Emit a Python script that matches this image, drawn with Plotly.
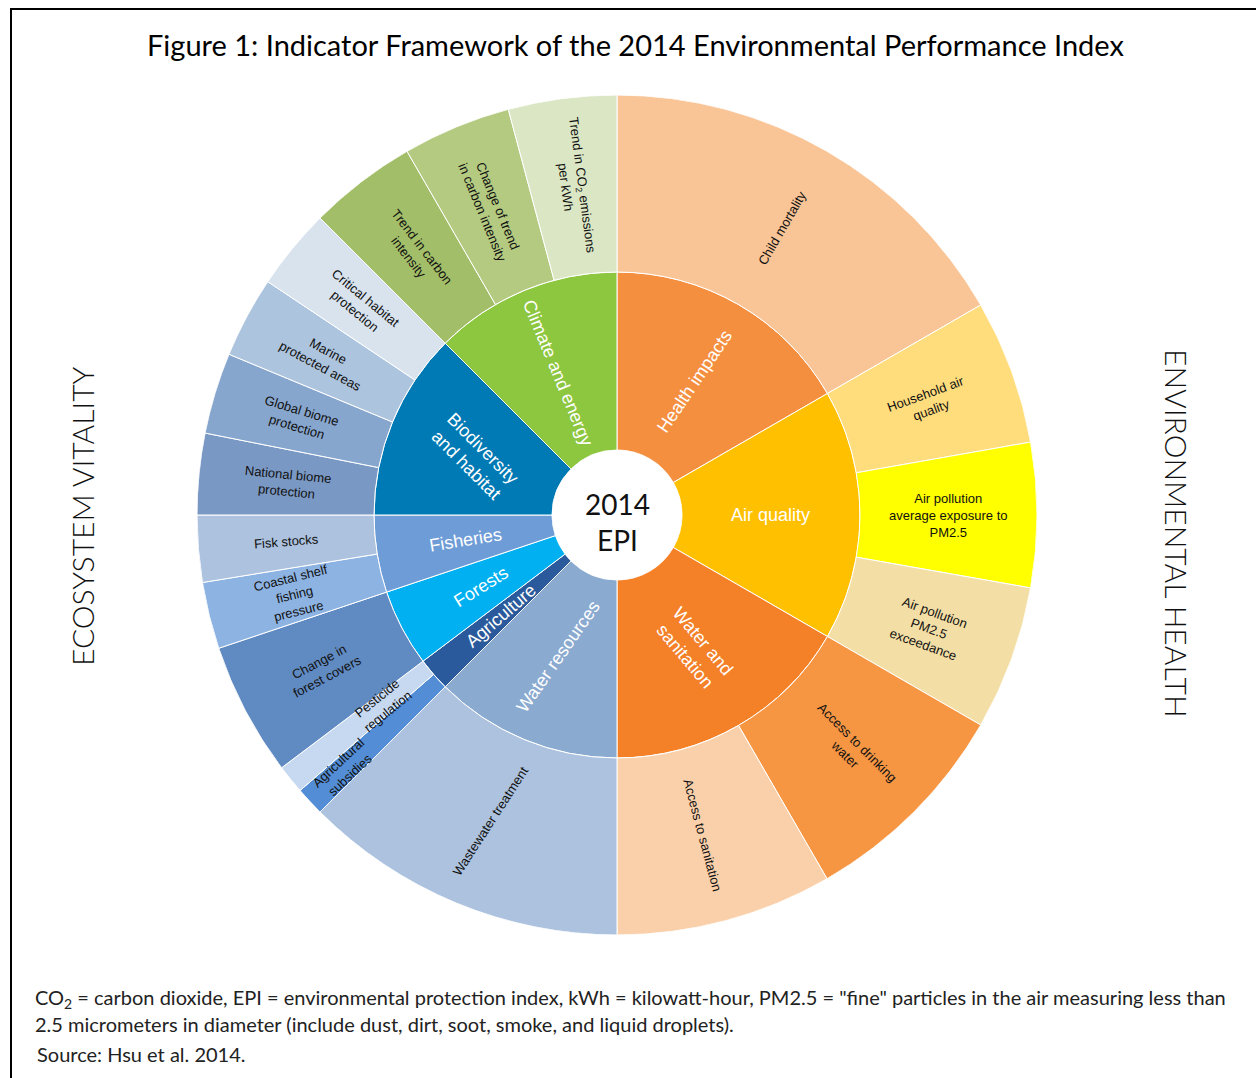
import numpy as np
import plotly.graph_objects as go

# ---------------- data ----------------
categories = ["Health impacts", "Air quality", "Water and sanitation", "Water resources",
              "Agriculture", "Forests", "Fisheries", "Biodiversity and habitat", "Climate and energy"]
category_text = ["Health impacts", "Air quality", "Water and<br>sanitation", "Water resources",
                 "Agriculture", "Forests", "Fisheries", "Biodiversity<br>and habitat", "Climate and energy"]
category_colors = ["#F58F40", "#FFC000", "#F48028", "#8AAAD0", "#2A5A9B",
                   "#00B0F0", "#6E9CD6", "#007AB5", "#8DC63F"]

indicators = ["Child mortality", "Household air quality", "Air pollution average exposure to PM2.5",
              "Air pollution PM2.5 exceedance", "Access to drinking water", "Access to sanitation",
              "Wastewater treatment", "Agricultural subsidies", "Pesticide regulation",
              "Change in forest covers", "Coastal shelf fishing pressure", "Fisk stocks",
              "National biome protection", "Global biome protection", "Marine protected areas",
              "Critical habitat protection", "Trend in carbon intensity",
              "Change of trend in carbon intensity", "Trend in CO2 emissions per kWh"]
indicator_parent = ["Health impacts", "Air quality", "Air quality", "Air quality",
                    "Water and sanitation", "Water and sanitation", "Water resources",
                    "Agriculture", "Agriculture", "Forests", "Fisheries", "Fisheries",
                    "Biodiversity and habitat", "Biodiversity and habitat",
                    "Biodiversity and habitat", "Biodiversity and habitat",
                    "Climate and energy", "Climate and energy", "Climate and energy"]
# share of the full circle (degrees)
indicator_share = [60, 20, 20, 20, 30, 30, 45, 4, 4, 18.5, 9.25, 9.25,
                   11.25, 11.25, 11.25, 11.25, 15, 15, 15]
indicator_text = ["Child mortality", "Household air<br>quality",
                  "Air pollution<br>average exposure to<br>PM2.5",
                  "Air pollution<br>PM2.5<br>exceedance", "Access to drinking<br>water",
                  "Access to sanitation", "Wastewater treatment", "Agricultural<br>subsidies",
                  "Pesticide<br>regulation", "Change in<br>forest covers",
                  "Coastal shelf<br>fishing<br>pressure", "Fisk stocks",
                  "National biome<br>protection", "Global biome<br>protection",
                  "Marine<br>protected areas", "Critical habitat<br>protection",
                  "Trend in carbon<br>intensity", "Change of trend<br>in carbon intensity",
                  "Trend in CO<sub>2</sub> emissions<br>per kWh"]
indicator_colors = ["#F9C496", "#FFDD7D", "#FFFF00", "#F3DEA5", "#F69643", "#FAD0AA",
                    "#ACC2DE", "#538DD5", "#C6D9F0", "#608AC2", "#8DB3E2", "#ACC2DE",
                    "#7A98C4", "#87A6CE", "#ADC4DE", "#D8E3EE", "#A3BE68", "#B3CA80", "#DAE6C4"]

category_share = [sum(s for s, p in zip(indicator_share, indicator_parent) if p == c)
                  for c in categories]

# ---------------- layout constants ----------------
W, H = 1256, 1078
CX, CY = 617, 515
R_HOLE, R_MID, R_OUT = 65, 243, 420
INNER_LEN = R_MID - R_HOLE
OUTER_LEN = R_OUT - R_MID

# style tweaks for individual labels (angle / radius overrides)
angle_override = {"Biodiversity and habitat": 45, "Water resources": -55, "Wastewater treatment": -57,
                  "Health impacts": -56, "Water and sanitation": 50, "Forests": -32}
radius_override = {"Pesticide regulation": 302, "Agricultural subsidies": 373}


def centers(shares):
    s = np.array(shares, dtype=float)
    start = np.concatenate([[0], np.cumsum(s)[:-1]])
    return start + s / 2


cat_theta = centers(category_share)
ind_theta = centers(indicator_share)

fig = go.Figure()
fig.add_trace(go.Barpolar(
    theta=cat_theta, width=category_share, r=[INNER_LEN] * len(categories), base=0,
    marker=dict(color=category_colors, line=dict(color="white", width=1)),
    text=categories, hoverinfo="text", showlegend=False))
fig.add_trace(go.Barpolar(
    theta=ind_theta, width=indicator_share, r=[OUTER_LEN] * len(indicators), base=INNER_LEN,
    marker=dict(color=indicator_colors, line=dict(color="white", width=1)),
    text=indicators, hoverinfo="text", showlegend=False))


def radial_angle(theta):
    a = theta - 90
    if a > 90:
        a -= 180
    return a


annotations = []


def add_label(name, text, theta, rad, size, color):
    rad = radius_override.get(name, rad)
    ang = angle_override.get(name, radial_angle(theta))
    t = np.radians(theta)
    annotations.append(dict(
        x=(CX + rad * np.sin(t)) / W, y=1 - (CY - rad * np.cos(t)) / H,
        xref="paper", yref="paper", text=text, showarrow=False, textangle=ang,
        xanchor="center", yanchor="middle",
        font=dict(family="Liberation Sans, Arial", size=size, color=color)))


for n, t, th in zip(categories, category_text, cat_theta):
    add_label(n, t, th, (R_HOLE + R_MID) / 2, 18, "white")
for n, t, th in zip(indicators, indicator_text, ind_theta):
    add_label(n, t, th, (R_MID + R_OUT) / 2, 13, "#111111")

# centre label
annotations.append(dict(x=CX / W, y=1 - CY / H, xref="paper", yref="paper", yshift=-7,
                        text="2014<br>EPI", showarrow=False, xanchor="center", yanchor="middle",
                        font=dict(family="Lato", size=28, color="#111111")))
# title
annotations.append(dict(x=635 / W, y=1 - 44 / H, xref="paper", yref="paper",
                        text="Figure 1: Indicator Framework of the 2014 Environmental Performance Index",
                        showarrow=False, xanchor="center", yanchor="middle",
                        font=dict(family="Lato", size=29, color="black")))
# side labels
annotations.append(dict(x=82 / W, y=1 - 516 / H, xref="paper", yref="paper",
                        text="ECOSYSTEM VITALITY", showarrow=False, textangle=-90,
                        xanchor="center", yanchor="middle",
                        font=dict(family="Lato", size=30, color="#111111", weight=300)))
annotations.append(dict(x=1177 / W, y=1 - 533 / H, xref="paper", yref="paper",
                        text="ENVIRONMENTAL HEALTH", showarrow=False, textangle=90,
                        xanchor="center", yanchor="middle",
                        font=dict(family="Lato", size=30, color="#111111", weight=300)))
# footer
foot_font = dict(family="Lato", size=20, color="#222222")
annotations.append(dict(x=33 / W, y=1 - 998 / H, xref="paper", yref="paper",
                        text="CO<sub>2</sub> = carbon dioxide, EPI = environmental protection index, "
                             "kWh = kilowatt-hour, PM2.5 = \"fine\" particles in the air measuring less than",
                        showarrow=False, xanchor="left", yanchor="middle", font=foot_font))
annotations.append(dict(x=33 / W, y=1 - 1024 / H, xref="paper", yref="paper",
                        text="2.5 micrometers in diameter (include dust, dirt, soot, smoke, and liquid droplets).",
                        showarrow=False, xanchor="left", yanchor="middle", font=foot_font))
annotations.append(dict(x=35 / W, y=1 - 1054 / H, xref="paper", yref="paper",
                        text="Source: Hsu et al. 2014.",
                        showarrow=False, xanchor="left", yanchor="middle", font=foot_font))

fig.update_layout(
    width=W, height=H, autosize=False,
    margin=dict(l=0, r=0, t=0, b=0),
    paper_bgcolor="white", plot_bgcolor="white",
    polar=dict(
        domain=dict(x=[(CX - R_OUT) / W, (CX + R_OUT) / W],
                    y=[1 - (CY + R_OUT) / H, 1 - (CY - R_OUT) / H]),
        hole=R_HOLE / R_OUT, bgcolor="rgba(0,0,0,0)", barmode="overlay",
        radialaxis=dict(range=[0, R_OUT - R_HOLE], visible=False),
        angularaxis=dict(rotation=90, direction="clockwise", visible=False),
    ),
    annotations=annotations,
    shapes=[dict(type="rect", xref="paper", yref="paper",
                 x0=11 / W, x1=1.02, y0=-0.02, y1=1 - 9 / H,
                 line=dict(color="black", width=2), fillcolor="rgba(0,0,0,0)")],
)

fig.write_html("out.html", config={"displayModeBar": False},
               post_script="document.body.style.margin='0';document.body.style.overflow='hidden';")
